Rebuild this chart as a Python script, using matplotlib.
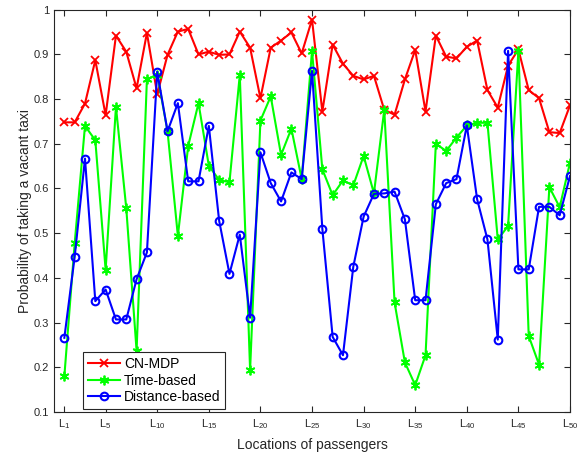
import matplotlib

matplotlib.use("Agg")
import matplotlib.pyplot as plt


OUTPUT_PATH = "out.png"

locations = list(range(1, 51))

cn_mdp = [
    0.748, 0.748, 0.790, 0.887, 0.764, 0.942, 0.906, 0.824, 0.948, 0.811,
    0.899, 0.951, 0.957, 0.900, 0.906, 0.899, 0.900, 0.951, 0.915, 0.802,
    0.915, 0.931, 0.949, 0.902, 0.978, 0.772, 0.922, 0.879, 0.852, 0.844,
    0.852, 0.776, 0.765, 0.844, 0.910, 0.772, 0.942, 0.895, 0.891, 0.917,
    0.931, 0.820, 0.781, 0.875, 0.911, 0.820, 0.802, 0.726, 0.724, 0.786,
]

time_based = [
    0.180, 0.477, 0.740, 0.708, 0.418, 0.783, 0.556, 0.237, 0.844, 0.855,
    0.728, 0.494, 0.695, 0.791, 0.651, 0.619, 0.614, 0.854, 0.194, 0.752,
    0.806, 0.675, 0.734, 0.621, 0.908, 0.643, 0.585, 0.618, 0.607, 0.673,
    0.589, 0.776, 0.345, 0.211, 0.160, 0.227, 0.700, 0.684, 0.714, 0.741,
    0.747, 0.747, 0.486, 0.516, 0.908, 0.270, 0.206, 0.603, 0.558, 0.658,
]

distance_based = [
    0.266, 0.447, 0.667, 0.348, 0.374, 0.307, 0.307, 0.397, 0.457, 0.861,
    0.728, 0.791, 0.616, 0.616, 0.740, 0.528, 0.409, 0.497, 0.311, 0.681,
    0.612, 0.571, 0.636, 0.621, 0.863, 0.510, 0.268, 0.227, 0.425, 0.537,
    0.588, 0.589, 0.593, 0.531, 0.350, 0.350, 0.565, 0.612, 0.621, 0.741,
    0.576, 0.486, 0.262, 0.908, 0.419, 0.419, 0.559, 0.559, 0.540, 0.628,
]

tick_positions = [1, 5, 10, 15, 20, 25, 30, 35, 40, 45, 50]
tick_labels = [rf"$\mathregular{{L_{{{n}}}}}$" for n in tick_positions]
y_ticks = [0.1, 0.2, 0.3, 0.4, 0.5, 0.6, 0.7, 0.8, 0.9, 1.0]
y_tick_labels = ["0.1", "0.2", "0.3", "0.4", "0.5", "0.6", "0.7", "0.8", "0.9", "1"]


def main() -> None:
    plt.rcParams["font.family"] = ["Liberation Sans", "DejaVu Sans"]
    plt.rcParams["mathtext.fontset"] = "custom"
    plt.rcParams["mathtext.rm"] = "Liberation Sans"

    figure = plt.figure(figsize=(5.86, 4.55), dpi=100)
    axis = figure.add_axes([0.0922, 0.0945, 0.8805, 0.8842])

    axis.plot(
        locations,
        cn_mdp,
        color="red",
        linewidth=1.5,
        marker="x",
        markersize=6,
        markeredgewidth=1.3,
        label="CN-MDP",
    )
    axis.plot(
        locations,
        time_based,
        color="#00ff00",
        linewidth=1.5,
        marker=(6, 2, 0),
        markersize=7,
        markeredgewidth=1.3,
        label="Time-based",
    )
    axis.plot(
        locations,
        distance_based,
        color="blue",
        linewidth=1.5,
        marker="o",
        markersize=5.5,
        markerfacecolor="none",
        markeredgewidth=1.5,
        label="Distance-based",
    )

    axis.set_xlim(0, 50)
    axis.set_ylim(0.1, 1.0)
    axis.set_xticks(tick_positions)
    axis.set_xticklabels(tick_labels)
    axis.set_yticks(y_ticks)
    axis.set_yticklabels(y_tick_labels)

    axis.tick_params(
        direction="in",
        top=True,
        right=True,
        length=4,
        width=0.8,
        labelsize=8,
        colors="#262626",
    )
    for spine in axis.spines.values():
        spine.set_color("#262626")
        spine.set_linewidth(0.8)

    axis.set_xlabel(
        "Locations of passengers",
        fontsize=10,
        color="#262626",
        labelpad=5,
    )
    axis.set_ylabel(
        "Probability of taking a vacant taxi",
        fontsize=10,
        color="#262626",
        labelpad=1,
    )

    legend = axis.legend(
        loc="lower left",
        bbox_to_anchor=(0.056, 0.007),
        borderaxespad=0,
        fontsize=10,
        handlelength=2.3,
        handletextpad=0.3,
        borderpad=0.35,
        labelspacing=0.2,
        fancybox=False,
        framealpha=1,
    )
    legend.get_frame().set_edgecolor("#262626")
    legend.get_frame().set_linewidth(0.8)

    figure.savefig(OUTPUT_PATH, dpi=100)
    plt.close(figure)


if __name__ == "__main__":
    main()
